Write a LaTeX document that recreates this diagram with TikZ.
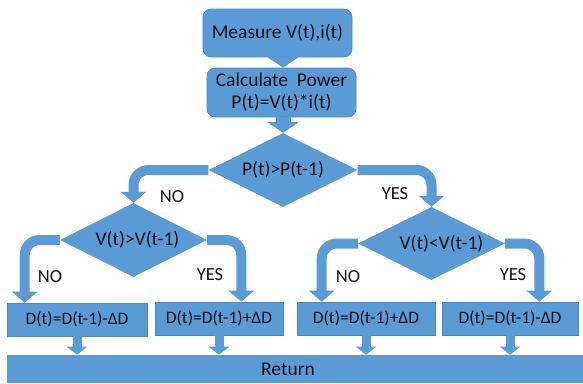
\documentclass[tikz,border=0pt]{standalone}
\usepackage{fontspec}
\setmainfont{Carlito}
\usetikzlibrary{shapes.geometric,arrows.meta}
\definecolor{blu}{HTML}{5B9BD5}
\definecolor{bord}{HTML}{4A88C2}
\definecolor{txt}{HTML}{101018}
\begin{document}
\begin{tikzpicture}[x=1pt,y=-1pt,
  box/.style={draw=bord,line width=0.6pt,fill=blu,text=txt,inner sep=0pt,
    font=\fontsize{19.5}{22}\selectfont,align=center},
  dbox/.style={box,font=\fontsize{17.5}{20}\selectfont,minimum height=33pt},
  dec/.style={diamond,aspect=2,fill=blu,text=txt,inner sep=0pt,font=\fontsize{19.5}{22}\selectfont},
  lab/.style={text=txt,font=\fontsize{18.5}{20}\selectfont,inner sep=0pt},
  bendarrow/.style={draw=blu,line width=10pt,rounded corners=15pt,
    -{Triangle[width=25pt,length=11pt]}},
  bigarrow/.style={draw=blu,line width=15pt,-{Triangle[width=32pt,length=11pt]}},
  smallarrow/.style={draw=blu,line width=9pt,-{Triangle[width=20pt,length=8pt]}}
]
\useasboundingbox (0,0) rectangle (583,383);

\node[box,rounded corners=8pt,minimum width=149pt,minimum height=48pt] (m) at (277.5,33) {Measure V(t),i(t)};
\node[box,rounded corners=8pt,minimum width=149pt,minimum height=49pt] (c) at (281.5,92.5) {Calculate\ \ Power\\P(t)=V(t)*i(t)};
\node[dec,minimum width=149pt,minimum height=74pt] (p) at (283,170) {P(t)>P(t-1)};
\node[dec,minimum width=147pt,minimum height=74pt] (v1) at (133.5,240) {\hspace{8pt}V(t)>V(t-1)};
\node[dec,minimum width=147pt,minimum height=73pt] (v2) at (431.5,243.5) {\hspace{20pt}V(t)<V(t-1)};

\node[dbox,minimum width=140pt] (b1) at (77,319.5) {D(t)=D(t-1)-ΔD};
\node[dbox,minimum width=128pt] (b2) at (219,318.5) {D(t)=D(t-1)+ΔD};
\node[dbox,minimum width=138pt] (b3) at (366,318.5) {D(t)=D(t-1)+ΔD};
\node[dbox,minimum width=136pt] (b4) at (510,318.5) {D(t)=D(t-1)-ΔD};
\node[box,draw=none,minimum width=576pt,minimum height=28pt] (r) at (295,369) {Return\hspace{14pt}};

\draw[bigarrow] (m.south -| p.north) -- (c.north -| p.north);
\draw[bigarrow] (c.south -| p.north) -- (p.north);

\draw[bendarrow] (p.west) -| (v1.north);
\draw[bendarrow] (p.east) -| (v2.north);
\draw[bendarrow] (v1.west) -| ([xshift=18pt]b1.north west);
\draw[bendarrow] (v1.east) -| ([xshift=-42pt]b2.north east);
\draw[bendarrow] (v2.west) -| ([xshift=25pt]b3.north west);
\draw[bendarrow] (v2.east) -| ([xshift=-39pt]b4.north east);

\foreach \b in {b1,b2,b3,b4}
  \draw[smallarrow] (\b.south) -- (\b.south |- r.north);

\node[lab] (l1) at (172,197) {NO};
\node[lab] (l2) at (395,194) {YES};
\node[lab] (l3) at (50,277) {NO};
\node[lab] (l4) at (210,275) {YES};
\node[lab] (l5) at (348,277) {NO};
\node[lab] (l6) at (513,275) {YES};
\end{tikzpicture}
\end{document}
